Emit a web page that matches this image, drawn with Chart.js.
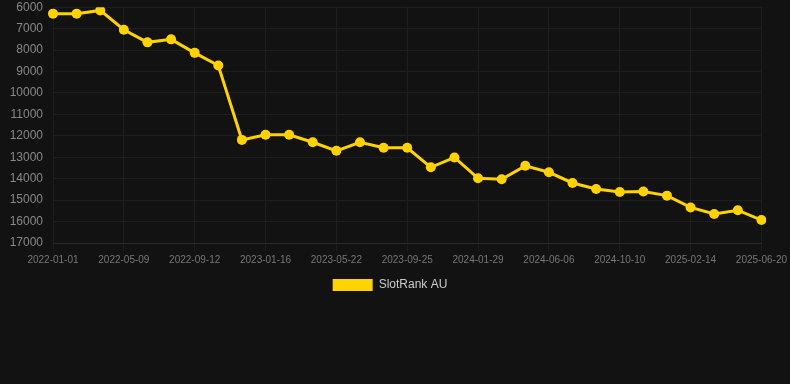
<!DOCTYPE html>
<html>
<head>
<meta charset="utf-8">
<script src="https://cdn.jsdelivr.net/npm/chart.js@4"></script>
<style>
  html, body { margin: 0; padding: 0; background: #121212; }
  .wrap { width: 790px; height: 301px; position: relative; }
</style>
</head>
<body>
<div class="wrap"><canvas id="rankChart"></canvas></div>
<script>
// SlotRank AU ranking over time (lower = better, so axis is reversed)
const dates = [
  '2022-01-01', '2022-02-13', '2022-03-27', '2022-05-09', '2022-06-20', '2022-08-01',
  '2022-09-12', '2022-10-24', '2022-12-05', '2023-01-16', '2023-02-27', '2023-04-10',
  '2023-05-22', '2023-07-03', '2023-08-14', '2023-09-25', '2023-11-06', '2023-12-18',
  '2024-01-29', '2024-03-12', '2024-04-24', '2024-06-06', '2024-07-18', '2024-08-29',
  '2024-10-10', '2024-11-21', '2025-01-03', '2025-02-14', '2025-03-28', '2025-05-09',
  '2025-06-20',
];
const rankAU = [
  6300, 6300, 6150, 7050, 7640, 7500, 8130, 8720, 12190, 11950, 11950, 12300,
  12700, 12300, 12560, 12560, 13470, 13010, 13980, 14030, 13400, 13700, 14200, 14480,
  14620, 14600, 14790, 15340, 15650, 15470, 15930,
];
const rankTicks = [6000, 7000, 8000, 9000, 10000, 11000, 12000, 13000, 14000, 15000, 16000, 17000];

const FONT = 'Liberation Sans, Arial, sans-serif';

const ctx = document.getElementById('rankChart').getContext('2d');
new Chart(ctx, {
  type: 'line',
  data: {
    labels: dates,
    datasets: [{
      label: 'SlotRank AU',
      data: rankAU,
      borderColor: '#ffd200',
      backgroundColor: '#ffd200',
      borderWidth: 3,
      pointRadius: 5,
      pointBackgroundColor: '#ffd200',
      pointBorderColor: '#ffd200',
      pointBorderWidth: 0,
      tension: 0,
    }],
  },
  options: {
    responsive: true,
    maintainAspectRatio: false,
    animation: false,
    layout: { autoPadding: false, padding: { left: 0, right: 10, top: 0, bottom: 0 } },
    plugins: {
      legend: {
        position: 'bottom',
        labels: {
          color: '#cccccc',
          font: { family: FONT, size: 12 },
          boxWidth: 40,
          boxHeight: 12,
          padding: 10,
          // flat box, no stroke from the line width
          generateLabels: chart => Chart.defaults.plugins.legend.labels.generateLabels(chart)
            .map(l => Object.assign(l, { lineWidth: 0 })),
        },
      },
      tooltip: { enabled: false },
    },
    scales: {
      x: {
        grid: { color: '#1e1e1e', drawTicks: true, tickLength: 8 },
        border: { color: '#2a2a2a' },
        ticks: {
          color: '#777777',
          font: { family: FONT, size: 10 },
          maxRotation: 0,
          autoSkip: false,
          padding: 3,
          callback: function (v, i) { return i % 3 === 0 ? dates[i] : null; },
        },
      },
      y: {
        reverse: true,
        min: 6000,
        max: 17000,
        afterBuildTicks: axis => { axis.ticks = rankTicks.map(v => ({ value: v })); },
        afterFit: axis => { axis.width = 53; },
        grid: { color: '#1e1e1e', drawTicks: true, tickLength: 10, tickColor: 'transparent' },
        border: { display: false },
        ticks: {
          color: '#888888',
          font: { family: FONT, size: 12 },
          padding: 0,
          callback: v => String(v),
        },
      },
    },
  },
});
</script>
</body>
</html>
